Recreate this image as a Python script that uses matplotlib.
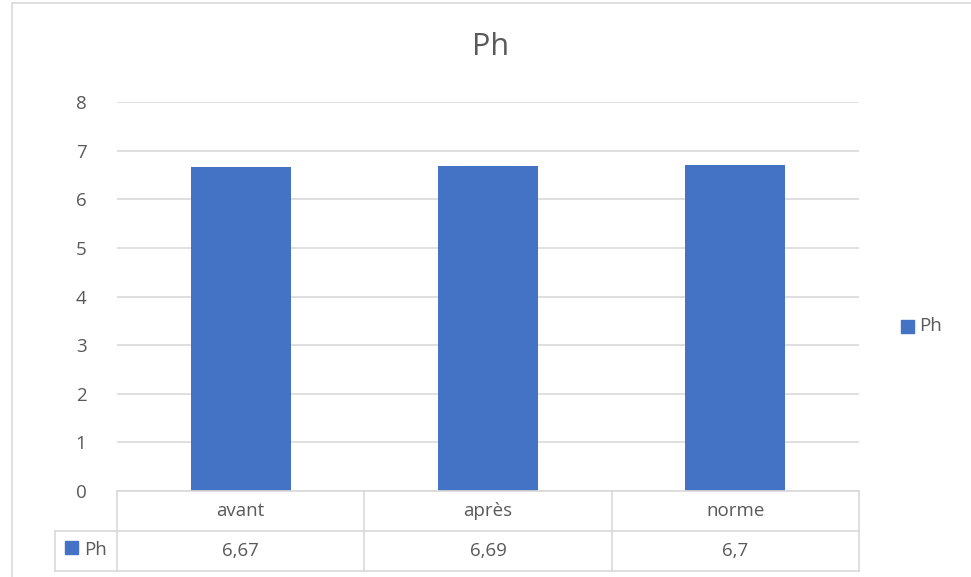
import matplotlib
matplotlib.use("Agg")
import matplotlib.pyplot as plt
from matplotlib import transforms
from matplotlib.patches import Rectangle

categories = ["avant", "après", "norme"]
values = [6.67, 6.69, 6.7]
value_labels = ["6,67", "6,69", "6,7"]
series_name = "Ph"
yticks = [0, 1, 2, 3, 4, 5, 6, 7, 8]

W, H = 971, 577
fig = plt.figure(figsize=(W / 100, H / 100), dpi=100)
plt.rcParams['font.family'] = ['Open Sans', 'DejaVu Sans']

bar_color = "#4472C4"
grid_color = "#D9D9D9"
text_color = "#595959"
fs = 13.5

def fx(px):
    return px / W

def fy(py):
    return 1 - py / H

# chart area border
fig.patches.append(Rectangle((fx(12), fy(577 + 5)), fx(990) - fx(12), fy(3) - fy(582),
                             transform=fig.transFigure, fill=False, edgecolor=grid_color, lw=1.2))

ax = fig.add_axes([fx(117), fy(491), fx(859) - fx(117), fy(102) - fy(491)])
x = list(range(len(categories)))
ax.bar(x, values, width=0.405, color=bar_color, zorder=3)
ax.set_xlim(-0.5, len(categories) - 0.5)
ax.set_ylim(0, 8)
ax.set_yticks(yticks)
ax.set_yticklabels([str(t) for t in yticks], fontsize=fs, color=text_color)
ax.tick_params(axis='y', length=0, pad=22)
ax.set_xticks([])
ax.grid(axis='y', color=grid_color, lw=1.2, zorder=0)
for s in ax.spines.values():
    s.set_visible(False)

fig.text(fx(491), fy(47), series_name, fontsize=22, color=text_color, ha='center', va='center')

# data table
lk = dict(color=grid_color, lw=1.2, transform=fig.transFigure, clip_on=False)
fig.add_artist(plt.Line2D([fx(117), fx(859)], [fy(491), fy(491)], **lk))
fig.add_artist(plt.Line2D([fx(55), fx(859)], [fy(531), fy(531)], **lk))
fig.add_artist(plt.Line2D([fx(55), fx(859)], [fy(571), fy(571)], **lk))
fig.add_artist(plt.Line2D([fx(55), fx(55)], [fy(531), fy(571)], **lk))
bt = transforms.blended_transform_factory(ax.transData, fig.transFigure)
for b in [-0.5, 0.5, 1.5, 2.5]:
    fig.add_artist(plt.Line2D([b, b], [fy(491), fy(571)], color=grid_color, lw=1.2,
                              transform=bt, clip_on=False))
for i, (c, v) in enumerate(zip(categories, value_labels)):
    fig.text(i, fy(511), c, transform=bt, ha='center', va='center', fontsize=fs, color=text_color)
    fig.text(i, fy(551), v, transform=bt, ha='center', va='center', fontsize=fs, color=text_color)

# table legend key
fig.patches.append(Rectangle((fx(65), fy(554)), fx(13), fy(541) - fy(554),
                             transform=fig.transFigure, color=bar_color))
fig.text(fx(84), fy(550), series_name, ha='left', va='center', fontsize=fs, color=text_color)

# right legend
fig.patches.append(Rectangle((fx(901), fy(333)), fx(13), fy(320) - fy(333),
                             transform=fig.transFigure, color=bar_color))
fig.text(fx(919), fy(326), series_name, ha='left', va='center', fontsize=fs, color=text_color)

fig.savefig("out.png", dpi=100)
